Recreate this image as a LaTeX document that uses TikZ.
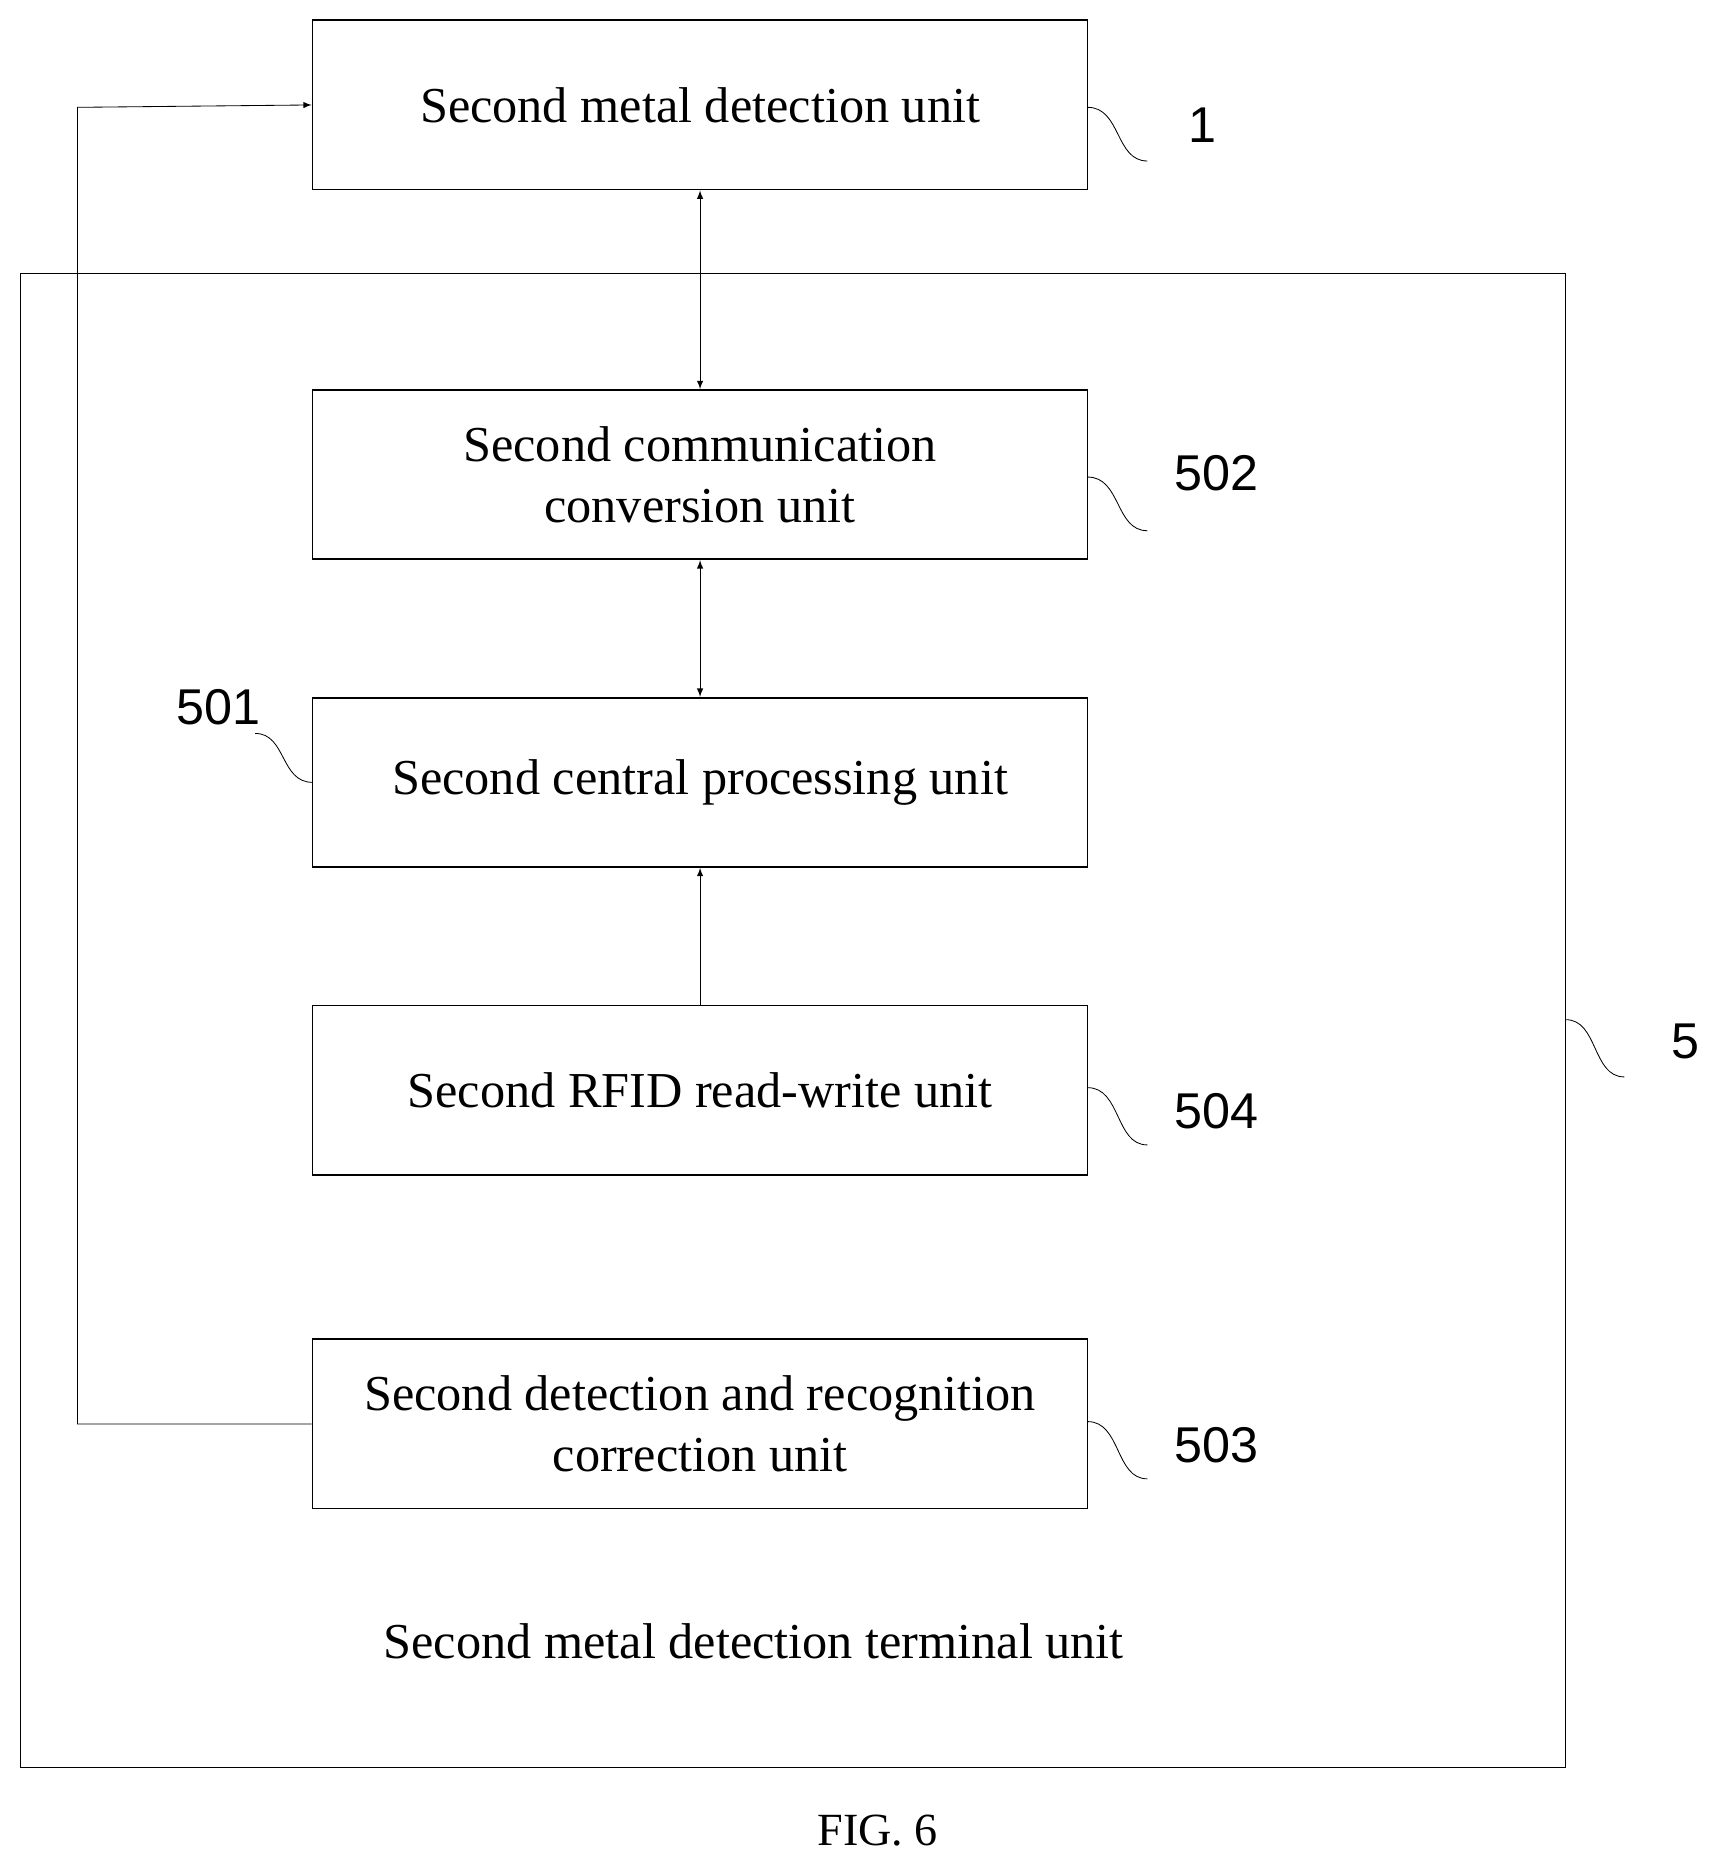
\documentclass[tikz,border=0pt]{standalone}
\usepackage{fontspec}
\setmainfont{Liberation Serif}
\newfontfamily\labfont{Liberation Sans}
\usetikzlibrary{arrows}

\begin{document}
\begin{tikzpicture}[x=0.02cm,y=-0.02cm,>=latex,thick,
  unit/.style={draw,minimum width=13cm,minimum height=2.84cm,align=center,font=\fontsize{24}{29}\selectfont},
  num/.style={font=\labfont\fontsize{24}{29}\selectfont},
  squig/.style={thin}]
  \useasboundingbox (0,0) rectangle (1440,1568);
  \draw[thin] (17,229) rectangle (1313,1482);
  \node[unit] (SMD) at (587,88) {Second metal detection unit};
  \node[unit] (SCC) at (587,398) {Second communication\\conversion unit};
  \node[unit] (SCP) at (587,656) {Second central processing unit};
  \node[unit] (RFID) at (587,914) {Second RFID read-write unit};
  \node[unit] (SDR) at (587,1194) {Second detection and recognition\\correction unit};
  \node[font=\fontsize{24}{29}\selectfont] (term) at (632,1376) {Second metal detection terminal unit};
  \node[font=\fontsize{22}{26}\selectfont] (fig) at (736,1535) {FIG. 6};
  % reference numbers
  \node[num] (n1) at (1008,105) {1};
  \node[num] (n502) at (1020,397) {502};
  \node[num] (n501) at (183,593) {501};
  \node[num] (n504) at (1020,932) {504};
  \node[num] (n503) at (1020,1212) {503};
  \node[num] (n5) at (1413,873) {5};
  \draw[squig] (912,90) .. controls (940,90) and (935,135) .. (962,135);
  \draw[squig] (912,400) .. controls (940,400) and (935,445) .. (962,445);
  \draw[squig] (912,912) .. controls (940,912) and (935,960) .. (962,960);
  \draw[squig] (912,1192) .. controls (940,1192) and (935,1240) .. (962,1240);
  \draw[squig] (1313,855) .. controls (1340,855) and (1335,903) .. (1362,903);
  \draw[squig] (214,615) .. controls (240,615) and (235,656) .. (262,656);
  % connectors
  \draw[<->,thin] (SMD) -- (SCC);
  \draw[<->,thin] (SCC) -- (SCP);
  \draw[->,thin] (RFID) -- (SCP);
  \draw[->,thin] (SDR.west) -- (65,1194) -- (65,90) -- (SMD.west);
\end{tikzpicture}
\end{document}
